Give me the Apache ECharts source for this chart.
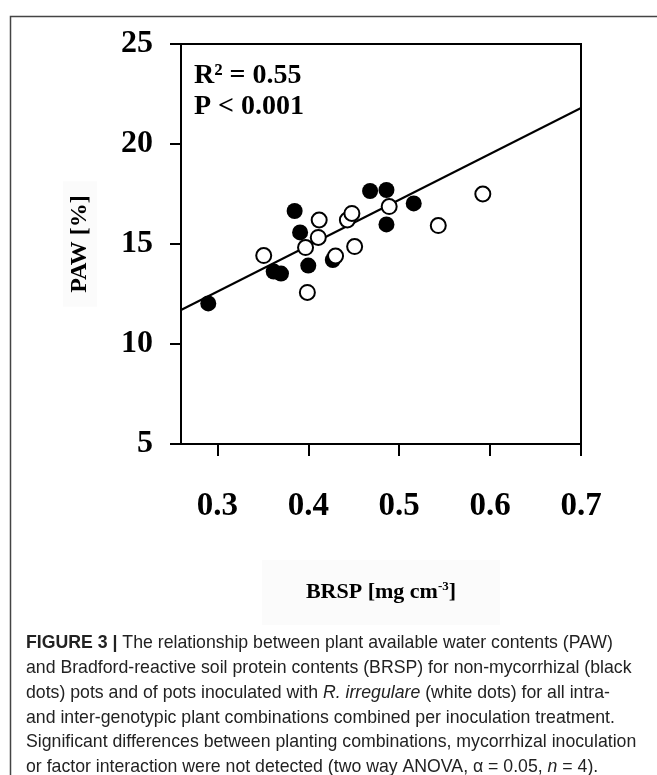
<!DOCTYPE html>
<html>
<head>
<meta charset="utf-8">
<script src="https://cdn.jsdelivr.net/npm/echarts@6/dist/echarts.min.js"></script>
<style>
  html, body { margin: 0; padding: 0; background: #fff; }
  #main { width: 657px; height: 775px; }
</style>
</head>
<body>
<div id="main"></div>
<script>
// black dots: non-mycorrhizal pots
var blackX = [0.290, 0.362, 0.370, 0.385, 0.391, 0.400, 0.427, 0.468, 0.486, 0.486, 0.516];
var blackY = [12.03, 13.62, 13.52, 16.65, 15.58, 13.92, 14.20, 17.65, 17.70, 15.98, 17.03];
// white dots: R. irregulare inoculated pots
var whiteX = [0.351, 0.397, 0.399, 0.411, 0.412, 0.430, 0.443, 0.448, 0.451, 0.489, 0.543, 0.592];
var whiteY = [14.42, 14.82, 12.58, 15.33, 16.20, 14.40, 16.20, 16.53, 14.87, 16.87, 15.92, 17.50];
// regression line end points
var fitX = [0.26, 0.70];
var fitY = [11.7, 21.8];
var xTicks = [0.3, 0.4, 0.5, 0.6, 0.7];
var statLines = ['R² = 0.55', 'P < 0.001'];
var captionLines = [
    '{b|FIGURE 3 |} The relationship between plant available water contents (PAW)',
    'and Bradford-reactive soil protein contents (BRSP) for non-mycorrhizal (black',
    'dots) pots and of pots inoculated with {i|R. irregulare} (white dots) for all intra-',
    'and inter-genotypic plant combinations combined per inoculation treatment.',
    'Significant differences between planting combinations, mycorrhizal inoculation',
    'or factor interaction were not detected (two way ANOVA, α = 0.05, {i|n} = 4).'
];

function pairs(xs, ys) {
    var out = [];
    for (var i = 0; i < xs.length; i++) {
        out.push([xs[i], ys[i]]);
    }
    return out;
}

var serif = '"Liberation Serif", "DejaVu Serif", serif';
var sans = '"Liberation Sans", sans-serif';
var capSize = 17.7;

var myChart = echarts.init(document.getElementById('main'));
myChart.setOption({
    animation: false,
    backgroundColor: '#fff',
    grid: {
        left: 181,
        top: 44,
        width: 400,
        height: 400,
        show: true,
        borderColor: '#000',
        borderWidth: 2
    },
    xAxis: {
        type: 'value',
        min: 0.26,
        max: 0.7,
        name: 'BRSP [mg cm{sup|-3}]',
        nameLocation: 'middle',
        nameGap: 116,
        nameTextStyle: {
            fontFamily: serif,
            fontWeight: 'bold',
            fontSize: 22,
            color: '#000',
            backgroundColor: '#fbfbfb',
            padding: [20, 44, 20, 44],
            rich: {
                sup: {
                    fontFamily: serif,
                    fontWeight: 'bold',
                    fontSize: 13,
                    verticalAlign: 'top',
                    padding: [0, 0, 12, 0]
                }
            }
        },
        axisLine: {lineStyle: {color: '#000', width: 2}},
        axisTick: {
            customValues: xTicks,
            length: 12,
            lineStyle: {color: '#000', width: 2}
        },
        axisLabel: {
            customValues: xTicks,
            formatter: function (v) {
                return v.toFixed(1);
            },
            fontFamily: serif,
            fontWeight: 'bold',
            fontSize: 33,
            color: '#000',
            margin: 46
        },
        splitLine: {show: false}
    },
    yAxis: {
        type: 'value',
        min: 5,
        max: 25,
        interval: 5,
        name: 'PAW [%]',
        nameLocation: 'middle',
        nameGap: 84,
        nameRotate: 90,
        nameTextStyle: {
            fontFamily: serif,
            fontWeight: 'bold',
            fontSize: 24,
            color: '#000',
            backgroundColor: '#fbfbfb',
            padding: [5, 14, 5, 14]
        },
        axisLine: {lineStyle: {color: '#000', width: 2}},
        axisTick: {
            length: 11,
            lineStyle: {color: '#000', width: 2}
        },
        axisLabel: {
            fontFamily: serif,
            fontWeight: 'bold',
            fontSize: 32,
            color: '#000',
            margin: 28
        },
        splitLine: {show: false}
    },
    graphic: [
        {
            type: 'rect',
            left: 8,
            top: 14,
            shape: {width: 700, height: 800},
            style: {fill: 'none', stroke: '#444', lineWidth: 1.5},
            silent: true
        },
        {
            type: 'text',
            left: 194,
            top: 60,
            style: {
                text: statLines.join('\n'),
                font: 'bold 28px ' + serif,
                lineHeight: 31,
                fill: '#000'
            }
        },
        {
            type: 'text',
            left: 26,
            top: 631,
            style: {
                text: captionLines.join('\n'),
                font: capSize + 'px ' + sans,
                lineHeight: 24.8,
                fill: '#222',
                rich: {
                    b: {fontFamily: sans, fontSize: capSize, fontWeight: 'bold', lineHeight: 24.8},
                    i: {fontFamily: sans, fontSize: capSize, fontStyle: 'italic', lineHeight: 24.8}
                }
            }
        }
    ],
    series: [
        {
            name: 'fit',
            type: 'line',
            data: pairs(fitX, fitY),
            symbol: 'none',
            lineStyle: {color: '#000', width: 2},
            z: 1
        },
        {
            name: 'non-mycorrhizal',
            type: 'scatter',
            data: pairs(blackX, blackY),
            symbol: 'circle',
            symbolSize: 16,
            itemStyle: {color: '#000', opacity: 1},
            z: 2
        },
        {
            name: 'R. irregulare',
            type: 'scatter',
            data: pairs(whiteX, whiteY),
            symbol: 'circle',
            symbolSize: 15,
            itemStyle: {color: '#fff', borderColor: '#000', borderWidth: 2, opacity: 1},
            z: 3
        }
    ]
});
</script>
</body>
</html>
